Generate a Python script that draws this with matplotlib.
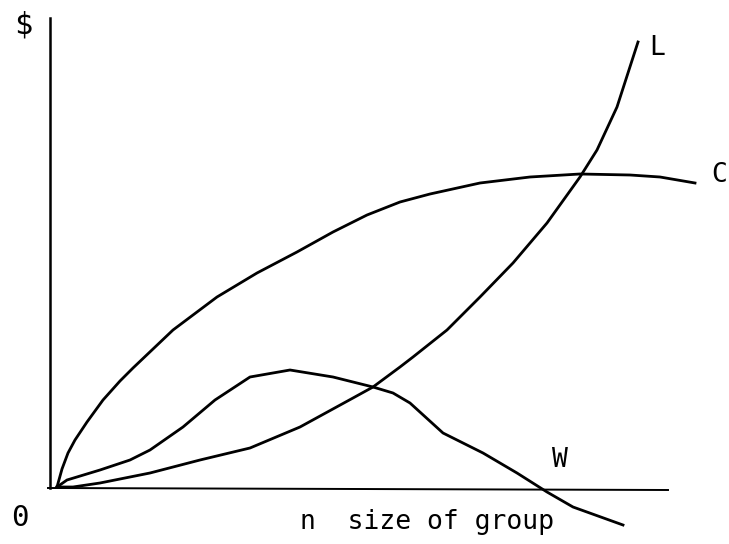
import numpy as np
import matplotlib.pyplot as plt

# curves (x = group size, y = $), origin at the axes corner
c_x = [7, 12, 18, 25, 37, 53, 70, 83, 123, 167, 207, 247, 283, 317, 350, 380, 430, 480, 530, 580, 610, 645]
c_y = [1, 19, 35, 48, 66, 88, 107, 120, 158, 191, 215, 236, 256, 273, 286, 294, 305, 311, 314, 313, 311, 305]

l_x = [7, 23, 50, 100, 150, 200, 250, 303, 323, 350, 363, 397, 430, 463, 497, 530, 547, 567, 588]
l_y = [1, 1, 5, 15, 28, 40, 61, 90, 101, 121, 131, 158, 191, 225, 265, 311, 338, 381, 446]

w_x = [7, 17, 50, 80, 100, 133, 165, 200, 240, 283, 323, 343, 360, 393, 433, 467, 497, 523, 573]
w_y = [1, 8, 18, 28, 38, 61, 88, 111, 118, 111, 101, 95, 85, 55, 35, 15, -4, -19, -37]

plt.rcParams['font.family'] = 'DejaVu Sans Mono'
fig = plt.figure(figsize=(7.29, 5.44), dpi=100)
ax = fig.add_axes([0, 0, 1, 1])
ax.set_xlim(-50, 679)
ax.set_ylim(-56, 488)
ax.axis('off')

# axes of the diagram
ax.plot([0, 0], [0, 470], color='black', lw=1.8)
ax.plot([-2, 618], [0, -2], color='black', lw=1.4)

for xs, ys in [(c_x, c_y), (l_x, l_y), (w_x, w_y)]:
    ax.plot(xs, ys, color='black', lw=2.0, solid_joinstyle='round')

fs = 19
ax.text(-27, 463, '$', fontsize=22, ha='center', va='center')
ax.text(-30, -30, '0', fontsize=21, ha='center', va='center')
ax.text(607, 440, 'L', fontsize=fs, ha='center', va='center')
ax.text(669, 313, 'C', fontsize=fs, ha='center', va='center')
ax.text(510, 28, 'W', fontsize=fs, ha='center', va='center')
ax.text(250, -34, 'n  size of group', fontsize=fs, ha='left', va='center')

plt.savefig('out.png')
